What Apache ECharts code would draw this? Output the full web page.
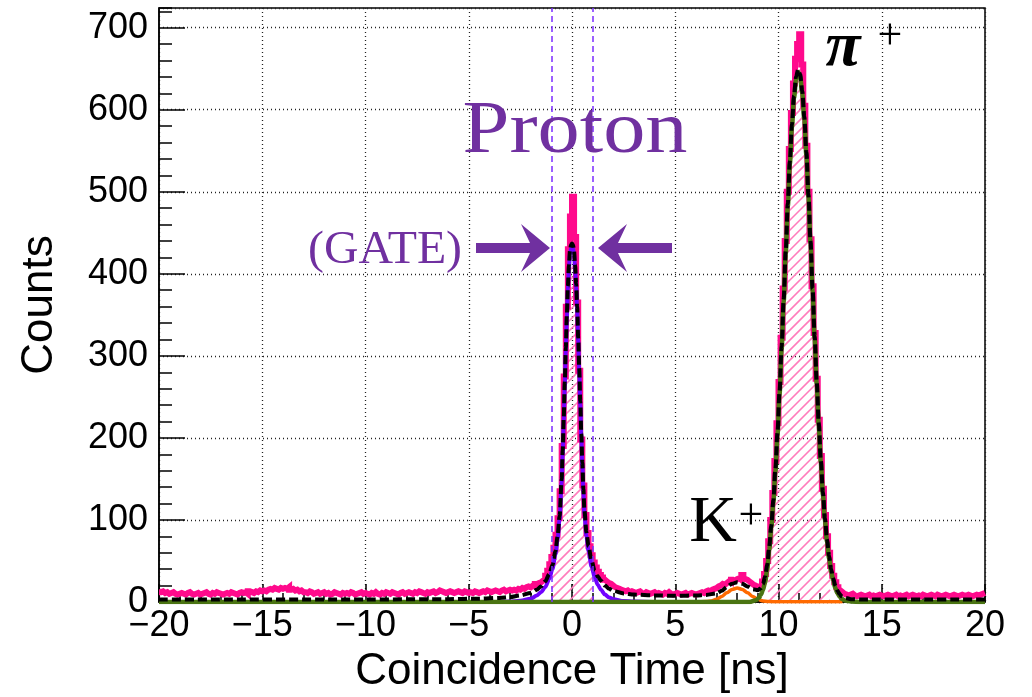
<!DOCTYPE html>
<html><head><meta charset="utf-8">
<script src="https://cdn.jsdelivr.net/npm/echarts@6/dist/echarts.min.js"></script>
<style>html,body{margin:0;padding:0;background:#fff}#c{width:1032px;height:697px}</style>
</head><body><div id="c"></div>
<script>
// ---- data ----
const binStart = -20, binWidth = 0.1;   // histogram binning (ns)
const counts = [
 12,13,11,12,10,11,12,10,9,10,
 11,10,9,11,12,10,9,10,11,9,
 10,11,12,10,9,11,10,12,11,10,
 9,10,11,10,12,11,10,9,11,12,
 11,12,10,13,12,11,13,12,14,13,
 14,13,15,16,15,17,16,15,17,16,
 17,16,18,15,16,14,15,13,14,12,
 12,11,13,12,10,11,12,10,11,12,
 10,11,9,10,12,11,10,9,11,10,
 11,10,12,11,9,10,11,12,10,11,
 10,9,11,10,12,10,9,11,10,12,
 11,10,12,11,10,9,11,12,10,11,
 12,11,10,12,11,13,12,11,10,12,
 11,12,13,11,12,14,13,12,11,12,
 13,12,11,12,13,12,11,13,12,11,
 12,11,13,12,11,12,13,12,14,13,
 12,13,14,13,12,14,15,13,14,15,
 14,15,14,16,15,17,16,18,19,18,
 20,19,22,23,24,26,28,32,38,46,
 55,66,82,102,135,190,275,360,430,470,
 494,445,365,282,198,142,106,84,68,57,
 48,42,37,33,30,27,25,23,22,20,
 18,17,16,15,14,13,14,12,13,12,
 11,12,13,11,10,12,11,10,11,12,
 10,11,10,9,11,10,12,10,9,10,
 11,10,9,10,11,9,10,11,10,9,
 10,11,12,11,13,14,13,15,16,17,
 19,20,22,21,23,25,24,27,26,28,
 29,27,33,28,27,25,23,21,20,18,
 19,21,25,34,50,74,100,133,172,218,
 268,322,382,440,500,552,596,632,662,680,
 692,655,605,556,500,442,385,328,272,222,
 178,138,106,80,60,44,32,24,18,14,
 12,10,9,8,9,10,8,7,8,9,
 8,7,8,9,7,8,7,8,9,8,
 7,8,9,8,7,8,9,7,8,7,
 8,9,7,8,9,8,7,8,7,9,
 8,7,8,9,8,7,9,8,7,8,
 9,8,7,8,9,8,7,8,9,8,
 8,9,8,7,8,9,8,9,10,11
];
const fitTotal = [
 [-20,3],[-10,3],[-6,3.5],[-4.5,4],[-3.5,5],[-3,6],[-2.5,8],[-2,11],[-1.7,15],[-1.5,19],
 [-1.3,25],[-1.1,34],[-0.95,45],[-0.8,62],[-0.7,80],[-0.6,105],[-0.5,150],[-0.45,185],
 [-0.4,225],[-0.35,268],[-0.3,310],[-0.25,350],[-0.2,385],[-0.15,410],[-0.1,428],[-0.05,435],
 [0,437],[0.05,435],[0.1,428],[0.15,410],[0.2,388],[0.25,360],[0.3,322],[0.35,285],[0.4,245],
 [0.45,205],[0.5,170],[0.55,138],[0.6,112],[0.7,85],[0.8,68],[0.95,50],[1.1,38],[1.25,31],
 [1.4,26],[1.6,20],[1.8,16],[2.0,13.5],[2.5,10.5],[3,9],[4,8],[5,7.5],[6,8],[6.5,8.6],
 [7.0,10.5],[7.25,13.7],[7.5,18.3],[7.75,22.3],[8.0,24],[8.25,22.2],[8.5,18.8],[8.75,15.7],
 [9.0,14.3],[9.15,17],[9.25,22],[9.35,31],[9.45,45],[9.55,67],[9.65,93],[9.75,124],[9.85,162],
 [9.95,206],[10.05,256],[10.15,311],[10.25,369],[10.35,428],[10.45,485],[10.55,537],[10.65,582],
 [10.75,617],[10.85,640],[10.95,649],[11.05,643],[11.15,623],[11.25,591],[11.35,548],[11.45,497],
 [11.55,440],[11.65,382],[11.75,324],[11.85,269],[11.95,218],[12.05,173],[12.15,134],[12.25,102],
 [12.35,76],[12.45,56],[12.55,40],[12.65,29],[12.75,20],[12.85,14],[12.95,10],[13.05,7],
 [13.25,5],[13.5,3.5],[14,3],[20,3]
];
const protonFit = [
 [-3.5,0],[-3,0.5],[-2.5,1.5],[-2,4],[-1.7,8],[-1.5,12],[-1.3,18],[-1.1,28],[-0.95,40],[-0.8,58],
 [-0.7,76],[-0.6,101],[-0.5,146],[-0.45,181],[-0.4,221],[-0.35,264],[-0.3,306],[-0.25,346],
 [-0.2,381],[-0.15,406],[-0.1,424],[-0.05,431],[0,433],[0.05,431],[0.1,424],[0.15,406],[0.2,384],
 [0.25,356],[0.3,318],[0.35,281],[0.4,241],[0.45,201],[0.5,166],[0.55,134],[0.6,108],[0.7,80],
 [0.8,62],[0.95,43],[1.1,30],[1.25,21],[1.4,15],[1.6,9],[1.8,5.5],[2.0,3.5],[2.5,1.2],[3,0.5],
 [4,0.1],[7,0]
];
const kaonFit = [
 [4.5,0.3],[6.0,0.3],[6.5,0.6],[6.75,1.3],[7.0,3.3],[7.25,6.7],[7.5,11.3],[7.75,15.3],[8.0,17],
 [8.25,15.3],[8.5,11.3],[8.75,6.7],[9.0,3.3],[9.25,1.3],[9.5,0.5],[10,0.2],[13.1,0.2]
];
const pionFit = [
 [-20,0],[8.6,0],[8.9,2],[9.05,5],[9.15,9],[9.25,15],[9.35,24],[9.45,39],[9.55,63],[9.65,90],
 [9.75,121],[9.85,159],[9.95,203],[10.05,253],[10.15,308],[10.25,366],[10.35,425],[10.45,482],
 [10.55,534],[10.65,579],[10.75,614],[10.85,637],[10.95,646],[11.05,640],[11.15,620],[11.25,588],
 [11.35,545],[11.45,494],[11.55,437],[11.65,379],[11.75,321],[11.85,266],[11.95,215],[12.05,170],
 [12.15,131],[12.25,99],[12.35,73],[12.45,53],[12.55,37],[12.65,26],[12.75,17],[12.85,11],
 [12.95,7],[13.05,4],[13.25,1.5],[13.5,0.5],[14,0],[20,0]
];
const gateLines = [-1, 1];
const hatchRanges = [[-1, 1], [9.5, 12.5]];
const xRange = [-20, 20], xMajor = 5, xMinor = 1;
const yRange = [0, 724], yMajor = 100, yMinor = 20;

// ---- helpers ----
function binsIn(lo, hi) {
  const out = [];
  counts.forEach((v, i) => {
    const a = +(binStart + i * binWidth).toFixed(4), b = +(a + binWidth).toFixed(4);
    if (a >= lo - 1e-9 && b <= hi + 1e-9) out.push([a, b, v]);
  });
  return out;
}
function histPoints(lo, hi) {
  const pts = [];
  binsIn(lo, hi).forEach(([a, b, v]) => { pts.push([a, v], [b, v]); });
  return pts;
}
const fmtX = v => v < 0 ? '\u2212' + (-v) : String(v);
const PURPLE = '#7030a0';
const HATCH = '#ff7cbc';

// hatch ("/" lines) under the histogram inside the given ranges
function renderHatch(params, api) {
  const children = [];
  const spacing = 10;
  const yBase = api.coord([0, 0])[1];
  hatchRanges.forEach(r => {
    const bins = binsIn(r[0], r[1]).map(([a, b, v]) => {
      const p0 = api.coord([a, v]), p1 = api.coord([b, v]);
      return [p0[0], p1[0], p0[1]];
    });
    if (!bins.length) return;
    const xl = bins[0][0], xr = bins[bins.length - 1][1];
    let minTop = Infinity; bins.forEach(b => { if (b[2] < minTop) minTop = b[2]; });
    const push = seg => children.push({type: 'line', silent: true,
      shape: {x1: seg[0], y1: seg[2] - seg[0], x2: seg[1], y2: seg[2] - seg[1]},
      style: {stroke: HATCH, lineWidth: 1.6}});
    for (let c = Math.floor((xl + minTop) / spacing) * spacing; c <= xr + yBase; c += spacing) {
      let seg = null;
      bins.forEach(([x0, x1, yt]) => {
        const s = Math.max(x0, c - yBase), e = Math.min(x1, c - yt);
        if (e > s) {
          if (seg && Math.abs(seg[1] - s) < 0.01) seg[1] = e;
          else { if (seg) push(seg); seg = [s, e, c]; }
        }
      });
      if (seg) push(seg);
    }
  });
  return {type: 'group', children};
}

const chart = echarts.init(document.getElementById('c'), null, {renderer: 'canvas'});
const series = [];
series.push({type: 'custom', coordinateSystem: 'cartesian2d', data: [[0, 0]], renderItem: renderHatch,
  silent: true, z: 1, animation: false});
series.push({
  type: 'line', name: 'data', data: histPoints(xRange[0], xRange[1]), showSymbol: false,
  lineStyle: {color: '#ff0a8c', width: 6, join: 'miter'}, z: 2, animation: false
});
series.push({type: 'line', data: protonFit, showSymbol: false, smooth: 0.3, smoothMonotone: 'x',
  lineStyle: {color: '#7000ff', width: 4}, z: 3, animation: false});
series.push({type: 'line', data: kaonFit, showSymbol: false, smooth: 0.3, smoothMonotone: 'x',
  lineStyle: {color: '#ff6a00', width: 3.5}, z: 3, animation: false});
series.push({type: 'line', data: pionFit, showSymbol: false, smooth: 0.3, smoothMonotone: 'x',
  lineStyle: {color: '#4a7412', width: 4.5}, z: 3, animation: false});
series.push({type: 'line', data: fitTotal, showSymbol: false, smooth: 0.3, smoothMonotone: 'x',
  lineStyle: {color: '#000', width: 4, type: [9, 4]}, z: 4, animation: false,
  markLine: {silent: true, symbol: ['none', 'none'], label: {show: false}, animation: false,
    lineStyle: {color: '#7b2cff', type: [6, 4], width: 1.5},
    data: gateLines.map(x => ({xAxis: x}))}
});

const axisFont = '"Liberation Sans", Arial, sans-serif';
const option = {
  animation: false,
  backgroundColor: '#fff',
  grid: {left: 159, right: 47, top: 8, bottom: 95, show: true, borderColor: '#000', borderWidth: 1.5,
    outerBoundsMode: 'none', containLabel: false},
  xAxis: [{
    type: 'value', min: xRange[0], max: xRange[1], interval: xMajor, position: 'bottom',
    name: 'Coincidence Time [ns]', nameLocation: 'middle', nameGap: 48,
    nameTextStyle: {fontSize: 44, fontFamily: axisFont, color: '#000'},
    axisLine: {show: true, onZero: false, lineStyle: {color: '#000', width: 1.5}},
    axisTick: {show: true, inside: true, length: 18, lineStyle: {color: '#000', width: 1.5}},
    axisLabel: {fontSize: 36, fontFamily: axisFont, color: '#000', margin: 6, formatter: fmtX},
    splitLine: {show: true, lineStyle: {color: '#222', type: [1, 3], width: 1.3}}
  }, {
    type: 'value', min: xRange[0], max: xRange[1], interval: xMinor, position: 'bottom',
    axisLine: {show: false, onZero: false}, axisLabel: {show: false}, splitLine: {show: false},
    axisTick: {show: true, inside: true, length: 9, lineStyle: {color: '#000', width: 1.5}}
  }],
  yAxis: [{
    type: 'value', min: yRange[0], max: yRange[1], interval: yMajor, position: 'left',
    name: 'Counts', nameLocation: 'middle', nameGap: 97,
    nameTextStyle: {fontSize: 44, fontFamily: axisFont, color: '#000'},
    axisLine: {show: true, onZero: false, lineStyle: {color: '#000', width: 1.5}},
    axisTick: {show: true, inside: true, length: 26, lineStyle: {color: '#000', width: 1.5}},
    axisLabel: {fontSize: 36, fontFamily: axisFont, color: '#000', margin: 11, showMaxLabel: false},
    splitLine: {show: true, lineStyle: {color: '#222', type: [1, 3], width: 1.3}}
  }, {
    type: 'value', min: yRange[0], max: yRange[1], interval: yMinor, position: 'left',
    axisLine: {show: false, onZero: false}, axisLabel: {show: false}, splitLine: {show: false},
    axisTick: {show: true, inside: true, length: 13, lineStyle: {color: '#000', width: 1.5}}
  }],
  series: series,
  graphic: [
    {type: 'text', x: 575, y: 133, scaleX: 1.14, z: 10, style: {text: 'Proton', fill: PURPLE,
      font: '74px "Liberation Serif", "Times New Roman", serif', align: 'center', verticalAlign: 'middle'}},
    {type: 'text', x: 385, y: 251, scaleX: 1.04, z: 10, style: {text: '(GATE)', fill: PURPLE,
      font: '46px "Liberation Serif", "Times New Roman", serif', align: 'center', verticalAlign: 'middle'}},
    {type: 'polygon', z: 10, shape: {points: [[476,243],[530,243],[521,224],[550,248],[521,272],[530,253],[476,253]]},
      style: {fill: PURPLE}},
    {type: 'polygon', z: 10, shape: {points: [[672,243],[618,243],[627,224],[598,248],[627,272],[618,253],[672,253]]},
      style: {fill: PURPLE}},
    {type: 'text', x: 713, y: 524, z: 10, style: {text: 'K', fill: '#000',
      font: '66px "Liberation Serif", "Times New Roman", serif', align: 'center', verticalAlign: 'middle'}},
    {type: 'text', x: 751, y: 517, z: 10, style: {text: '+', fill: '#000',
      font: '44px "Liberation Serif", "Times New Roman", serif', align: 'center', verticalAlign: 'middle'}},
    {type: 'text', x: 843, y: 48, z: 10, style: {text: '\u03c0', fill: '#000',
      font: 'italic bold 64px "Liberation Serif", "Times New Roman", serif', align: 'center', verticalAlign: 'middle'}},
    {type: 'text', x: 890, y: 37, z: 10, style: {text: '+', fill: '#000',
      font: '44px "Liberation Serif", "Times New Roman", serif', align: 'center', verticalAlign: 'middle'}}
  ]
};
chart.setOption(option);
</script>
</body></html>
